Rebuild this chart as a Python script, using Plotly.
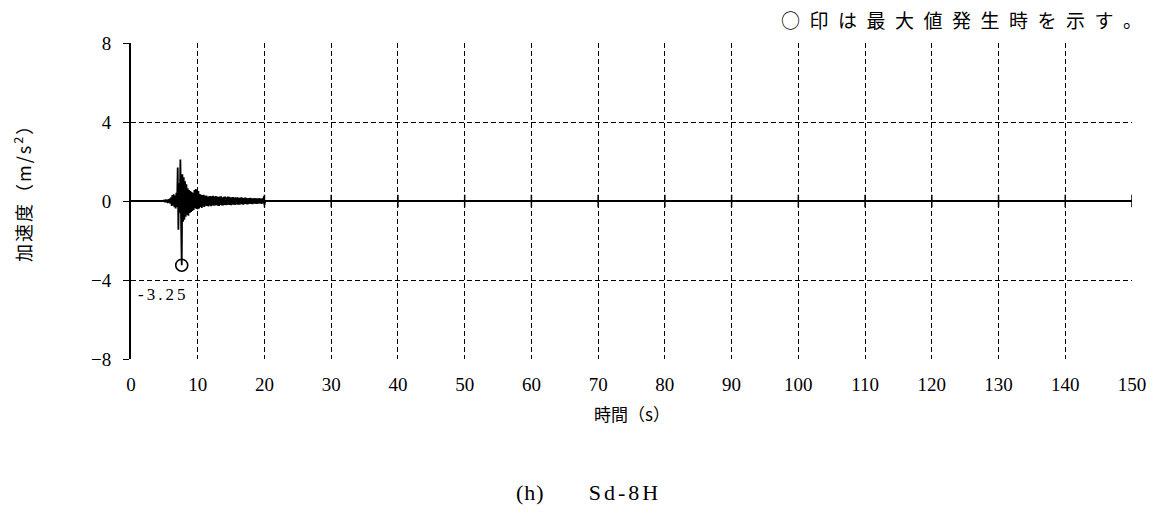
import plotly.graph_objects as go

# ---- data ----
T0 = 4.9          # first sample time (s)
DT = 0.1          # sample interval (s)
accel = [
    0.00, 0.05, -0.06, 0.08, -0.07, 0.06, -0.10, 0.09, -0.08, 0.12, -0.14,
    0.18, -0.25, 0.30, -0.22, 0.34, -0.32, 0.28, -0.38, 0.42, -0.30,
    1.70, -1.45, 0.90, -0.60, 2.10, -0.90, -3.25, 1.35, -1.05, 1.20,
    -0.95, 1.00, -0.80, 0.85, -0.70, 0.65, -0.75, 0.55, -0.60, 0.50,
    -0.55, 0.45, -0.50, 0.40, -0.45, 0.55, -0.35, 0.60, -0.40, 0.58,
    -0.42, 0.50, -0.38, 0.35, -0.30, 0.32, -0.35, 0.30, -0.28, 0.32,
    -0.30, 0.26, -0.24, 0.28, -0.25, 0.22, -0.27, 0.24, -0.22, 0.25,
    -0.26, 0.24, -0.22, 0.26, -0.24, 0.22, -0.23, 0.25, -0.21, 0.23,
    -0.24, 0.21, -0.25, 0.22, -0.20, 0.24, -0.22, 0.19, -0.23, 0.21,
    -0.20, 0.23, -0.21, 0.18, -0.20, 0.22, -0.19, 0.21, -0.20, 0.18,
    -0.21, 0.19, -0.18, 0.20, -0.19, 0.17, -0.20, 0.18, -0.17, 0.19,
    -0.18, 0.17, -0.19, 0.16, -0.17, 0.18, -0.16, 0.17, -0.18, 0.15,
    -0.16, 0.17, -0.15, 0.16, -0.17, 0.14, -0.16, 0.15, -0.14, 0.16,
    -0.15, 0.14, -0.16, 0.13, -0.14, 0.15, -0.13, 0.14, -0.15, 0.13,
    -0.14, 0.13, -0.12, 0.14, -0.13, 0.12, -0.14, 0.13, -0.12, 0.24,
    -0.20, 0.00,
]
x_ticks = [0, 10, 20, 30, 40, 50, 60, 70, 80, 90, 100, 110, 120, 130, 140, 150]
y_ticks = [-8, -4, 0, 4, 8]
x_range = [0, 150]
y_range = [-8, 8]
max_label = "-3.25"
note_text = "○印は最大値発生時を示す。"
x_title = "時間（s）"
y_title = "加速度（m/s<sup>2</sup>）"
caption_id = "(h)"
caption_name = "Sd-8H"

# ---- build figure ----
times = [round(T0 + i * DT, 3) for i in range(len(accel))]
imax = max(range(len(accel)), key=lambda i: abs(accel[i]))

SERIF = "Liberation Serif"
JP = "Noto Sans CJK JP"
GRIDDASH = "5px,3px"


def spaced(txt, px):
    return '<span style="letter-spacing:%spx">%s</span>' % (px, txt)


fig = go.Figure()
fig.add_trace(go.Scatter(x=times, y=accel, mode="lines",
                         line=dict(color="black", width=1.8),
                         hoverinfo="skip", showlegend=False))
# small tick crosses on the zero line
fig.add_trace(go.Scatter(x=x_ticks[1:], y=[0] * (len(x_ticks) - 1), mode="markers",
                         marker=dict(symbol="line-ns", size=9, color="black",
                                     line=dict(color="black", width=1.5)),
                         hoverinfo="skip", showlegend=False))
# max value circle
fig.add_trace(go.Scatter(x=[times[imax]], y=[accel[imax]], mode="markers",
                         marker=dict(symbol="circle-open", size=12, color="black",
                                     line=dict(color="black", width=1.6)),
                         hoverinfo="skip", showlegend=False))

fig.add_annotation(x=times[imax], y=accel[imax], text=spaced(max_label, 3),
                   showarrow=False,
                   xanchor="center", yanchor="middle", xshift=-19, yshift=-29,
                   font=dict(family=SERIF, size=17, color="black"))

fig.update_xaxes(range=x_range, tickvals=x_ticks, ticks="", showline=False,
                 zeroline=False, showgrid=True, gridcolor="black", griddash=GRIDDASH,
                 gridwidth=1.4, ticklabelstandoff=12,
                 tickfont=dict(family=SERIF, size=19, color="black"))
fig.update_yaxes(range=y_range, tickvals=y_ticks, ticks="outside", ticklen=6,
                 tickcolor="black", tickwidth=1.4,
                 showline=True, linecolor="black", linewidth=2,
                 zeroline=True, zerolinecolor="black", zerolinewidth=1.8,
                 showgrid=True, gridcolor="black", griddash=GRIDDASH, gridwidth=1.4,
                 ticklabelstandoff=8,
                 tickfont=dict(family=SERIF, size=19, color="black"))

fig.add_annotation(xref="paper", yref="paper", x=0.5, y=-0.172, text=x_title,
                   xanchor="center", yanchor="middle",
                   showarrow=False, font=dict(family=JP, size=17, color="black"))
fig.add_annotation(xref="paper", yref="paper", x=-0.1083, y=0.54,
                   text=spaced(y_title, 2),
                   xanchor="center", yanchor="middle",
                   textangle=-90, showarrow=False,
                   font=dict(family=JP, size=18, color="black"))
fig.add_annotation(xref="paper", yref="paper", x=1.0117, y=1.074,
                   text=spaced(note_text[:-1], 9.5) + note_text[-1],
                   xanchor="right", yanchor="middle", showarrow=False,
                   font=dict(family=JP, size=19, color="black"))
fig.add_annotation(xref="paper", yref="paper", x=0.4572, y=-0.4226,
                   text=spaced(caption_id, 1) + "\u3000\u3000" + spaced(caption_name, 3),
                   xanchor="center", yanchor="middle",
                   showarrow=False, font=dict(family=SERIF, size=22, color="black"))

# page has an 8px body margin, so the figure is offset by 8px
fig.update_layout(width=1149, height=512,
                  margin=dict(l=122.5, r=24.7, t=35.3, b=161.3),
                  plot_bgcolor="white", paper_bgcolor="white")

fig.write_html("out.html")
